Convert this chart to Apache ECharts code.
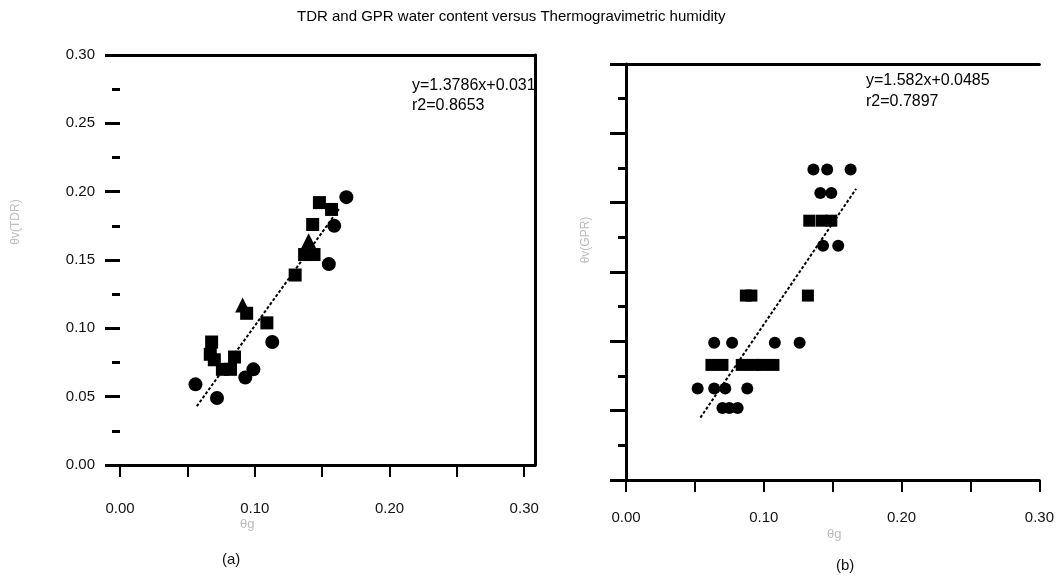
<!DOCTYPE html>
<html><head><meta charset="utf-8">
<script src="https://cdn.jsdelivr.net/npm/echarts@6/dist/echarts.min.js"></script>
<style>html,body{margin:0;padding:0;background:#fff}#c{width:1057px;height:585px}</style>
</head><body><div id="c"></div>
<script>
// ---- data ----
const titleText = 'TDR and GPR water content versus Thermogravimetric humidity';
const xLabelVals = [0, 0.1, 0.2, 0.3];
const xTickVals = [0, 0.05, 0.1, 0.15, 0.2, 0.25, 0.3];
// panel (a): theta_v(TDR) vs theta_g
const aCircles = [[0.168,0.196],[0.159,0.175],[0.155,0.147],[0.113,0.090],[0.099,0.070],[0.093,0.064],[0.056,0.059],[0.072,0.049]];
const aSquares = [[0.148,0.192],[0.157,0.187],[0.143,0.176],[0.137,0.154],[0.144,0.154],[0.130,0.139],[0.094,0.111],[0.109,0.104],[0.068,0.090],[0.067,0.081],[0.085,0.079],[0.076,0.070],[0.082,0.070],[0.070,0.077]];
const aTriangles = [[0.140,0.164],[0.091,0.117]];
const aFit = [[0.057,0.043],[0.163,0.188]];
const aEq = 'y=1.3786x+0.031';
const aR2 = 'r2=0.8653';
// panel (b): theta_v(GPR) vs theta_g
const bCircles = [[0.136,0.224],[0.146,0.224],[0.163,0.224],[0.141,0.207],[0.149,0.207],[0.143,0.169],[0.154,0.169],
  [0.064,0.099],[0.077,0.099],[0.108,0.099],[0.126,0.099],[0.052,0.066],[0.064,0.066],[0.072,0.066],[0.088,0.066],
  [0.070,0.052],[0.075,0.052],[0.081,0.052]];
const bSquares = [[0.133,0.187],[0.142,0.187],[0.149,0.187],[0.087,0.133],[0.091,0.133],[0.132,0.133],
  [0.062,0.083],[0.070,0.083],[0.084,0.083],[0.092,0.083],[0.099,0.083],[0.107,0.083]];
const bFit = [[0.054,0.045],[0.167,0.210]];
const bEq = 'y=1.582x+0.0485';
const bR2 = 'r2=0.7897';

const FONT = 'Liberation Sans, Arial, sans-serif';
const lbl = {fontFamily: FONT, fontSize: 15, color: '#111'};
const fmt = v => v.toFixed(2);

const chart = echarts.init(document.getElementById('c'));
const mk = (data, symbol, xi, size) => ({type:'scatter', xAxisIndex:xi, yAxisIndex:xi, data, symbol, symbolSize:size,
  itemStyle:{color:'#000', opacity:1}, silent:true});
const fit = (data, xi) => ({type:'line', xAxisIndex:xi, yAxisIndex:xi, data, symbol:'none',
  lineStyle:{color:'#000', width:2, type:[3,2]}, silent:true});

chart.setOption({
  animation:false,
  backgroundColor:'#fff',
  title:{text:titleText, left:292, top:4, textStyle:{fontFamily:FONT, fontSize:15, fontWeight:'normal', color:'#000'}},
  grid:[
    {left:120, top:55, width:415, height:410},
    {left:626, top:64, width:414, height:416}
  ],
  xAxis:[
    {gridIndex:0, type:'value', min:0, max:0.308, splitLine:{show:false},
     axisLine:{onZero:false, lineStyle:{color:'#000', width:3}},
     axisTick:{customValues:xTickVals, length:12, lineStyle:{color:'#000', width:2}},
     axisLabel:{customValues:xLabelVals, formatter:fmt, margin:36, ...lbl}},
    {gridIndex:1, type:'value', min:0, max:0.30, splitLine:{show:false},
     axisLine:{onZero:false, lineStyle:{color:'#000', width:3}},
     axisTick:{customValues:xTickVals, length:12, lineStyle:{color:'#000', width:2}},
     axisLabel:{customValues:xLabelVals, formatter:fmt, margin:30, ...lbl}},
    {gridIndex:0, type:'value', position:'top', min:0, max:0.308, splitLine:{show:false},
     axisLine:{onZero:false, lineStyle:{color:'#000', width:3}}, axisTick:{show:false}, axisLabel:{show:false}},
    {gridIndex:1, type:'value', position:'top', min:0, max:0.30, splitLine:{show:false},
     axisLine:{onZero:false, lineStyle:{color:'#000', width:3}}, axisTick:{show:false}, axisLabel:{show:false}}
  ],
  yAxis:[
    {gridIndex:0, type:'value', min:0, max:0.30, interval:0.05, splitLine:{show:false},
     axisLine:{show:false, onZero:false},
     axisTick:{show:true, length:15, lineStyle:{color:'#000', width:3}},
     minorTick:{show:true, splitNumber:2, length:8, lineStyle:{color:'#000', width:3}},
     axisLabel:{formatter:fmt, margin:25, ...lbl}},
    {gridIndex:1, type:'value', min:0, max:0.30, interval:0.05, splitLine:{show:false},
     axisLine:{show:true, onZero:false, lineStyle:{color:'#000', width:3}},
     axisTick:{show:true, length:16, lineStyle:{color:'#000', width:3}},
     minorTick:{show:true, splitNumber:2, length:8, lineStyle:{color:'#000', width:3}},
     axisLabel:{show:false}},
    {gridIndex:0, type:'value', position:'right', min:0, max:0.30, splitLine:{show:false},
     axisLine:{show:true, onZero:false, lineStyle:{color:'#000', width:3}}, axisTick:{show:false}, axisLabel:{show:false}}
  ],
  series:[
    fit(aFit, 0),
    mk(aCircles, 'circle', 0, 14),
    mk(aSquares, 'rect', 0, 13),
    mk(aTriangles, 'triangle', 0, 15),
    fit(bFit, 1),
    mk(bCircles, 'circle', 1, 12),
    mk(bSquares, 'rect', 1, 12)
  ],
  graphic:[
    {type:'text', left:412, top:78, style:{text:aEq, font:'16px '+FONT, fill:'#000'}},
    {type:'text', left:412, top:98, style:{text:aR2, font:'16px '+FONT, fill:'#000'}},
    {type:'text', left:866, top:73, style:{text:bEq, font:'16px '+FONT, fill:'#000'}},
    {type:'text', left:866, top:94, style:{text:bR2, font:'16px '+FONT, fill:'#000'}},
    {type:'text', left:240, top:518, style:{text:'θg', font:'13px '+FONT, fill:'#bbb'}},
    {type:'text', left:827, top:528, style:{text:'θg', font:'13px '+FONT, fill:'#bbb'}},
    {type:'text', left:222, top:552, style:{text:'(a)', font:'15px '+FONT, fill:'#111'}},
    {type:'text', left:836, top:558, style:{text:'(b)', font:'15px '+FONT, fill:'#111'}},
    {type:'text', x:16, y:222, rotation:Math.PI/2, style:{text:'θv(TDR)', font:'12px '+FONT, fill:'#bbb', align:'center', verticalAlign:'middle'}},
    {type:'text', x:586, y:240, rotation:Math.PI/2, style:{text:'θv(GPR)', font:'12px '+FONT, fill:'#bbb', align:'center', verticalAlign:'middle'}}
  ]
});
</script></body></html>
